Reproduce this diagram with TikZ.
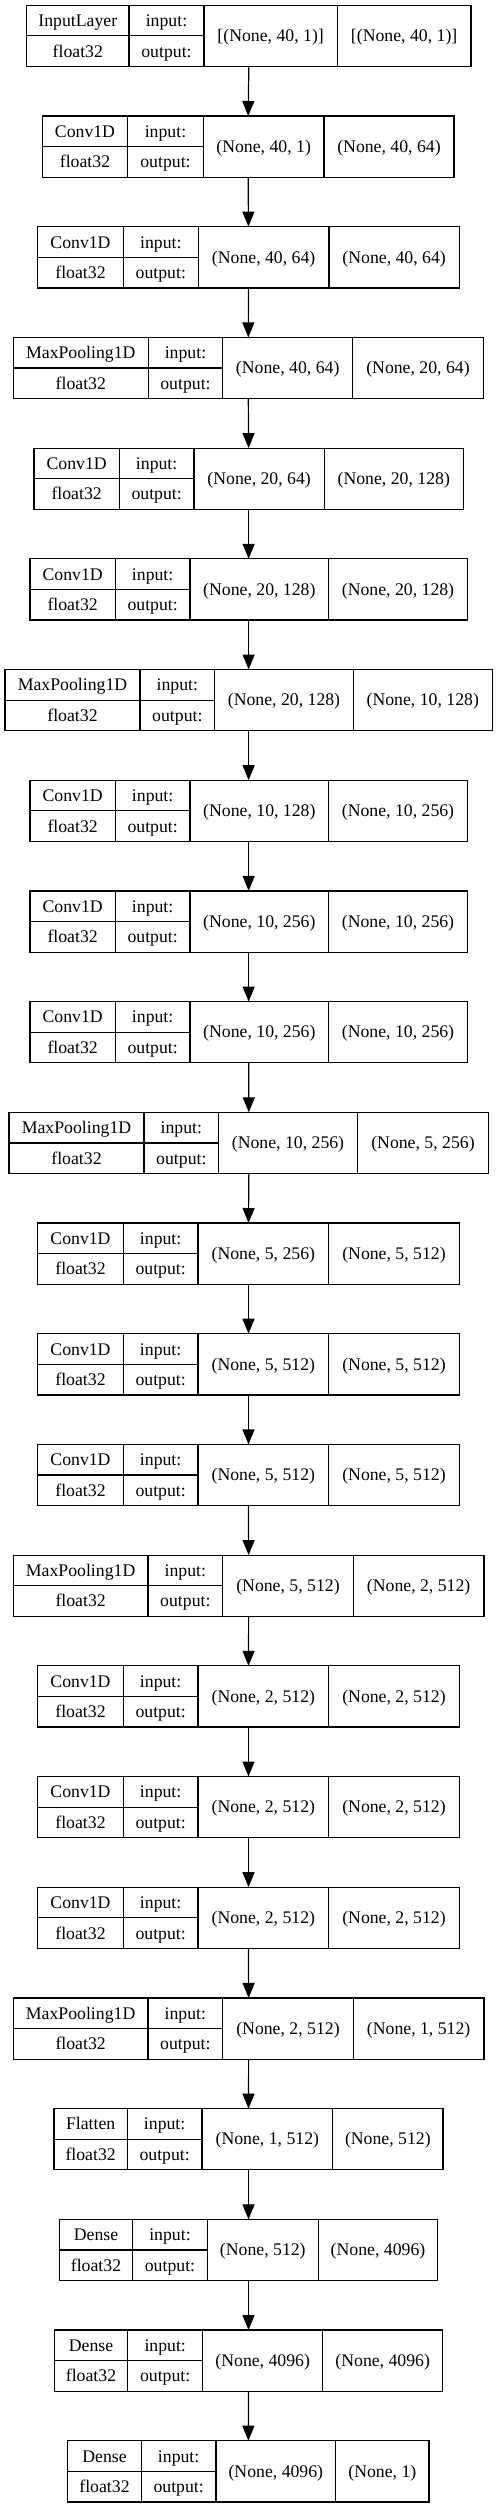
\documentclass[tikz,border=0pt]{standalone}
\usepackage{fontspec}
\setmainfont{Liberation Serif}
\usetikzlibrary{arrows.meta}
\tikzset{
  boxframe/.style={draw=black, line width=0.9pt, rectangle, inner sep=0pt, outer sep=0pt},
  sep/.style={draw=black, line width=0.9pt},
  lbl/.style={anchor=base, inner sep=0pt, font=\fontsize{13.3}{15}\selectfont},
  arr/.style={draw=black, line width=0.9pt, -{Triangle[length=11.25pt, width=9pt]}}
}
\newcommand{\layer}[9]{%
  \pgfmathsetmacro\tp{5.3+110.7*#1}%
  \pgfmathsetmacro\bt{\tp+61.2}%
  \pgfmathsetmacro\md{\tp+30.6}%
  \node[boxframe, minimum width={(#6-#2)*0.75}, minimum height={61.2*0.75}] (b#1) at ({(#2+#6)/2},\md) {};
  \draw[sep] (#3,\tp) -- (#3,\bt);
  \draw[sep] (#4,\tp) -- (#4,\bt);
  \draw[sep] (#5,\tp) -- (#5,\bt);
  \draw[sep] (#2,\md) -- (#4,\md);
  \node[lbl] (n#1) at ({(#2+#3)/2},{\tp+21.3}) {#7};
  \node[lbl] (d#1) at ({(#2+#3)/2},{\tp+51.8}) {float32};
  \node[lbl] (i#1) at ({(#3+#4)/2},{\tp+21.3}) {input:};
  \node[lbl] (o#1) at ({(#3+#4)/2},{\tp+51.8}) {output:};
  \node[lbl] (s#1) at ({(#4+#5)/2},{\tp+36.3}) {#8};
  \node[lbl] (t#1) at ({(#5+#6)/2},{\tp+36.3}) {#9};
}
\begin{document}
\begin{tikzpicture}[x=0.75pt, y=-0.75pt]
\useasboundingbox (0,0) rectangle (497,2508);
\fill[white] (0,0) rectangle (497,2508);
\layer{0}{26.7}{129}{204}{337.3}{471}{InputLayer}{[(None, 40, 1)]}{[(None, 40, 1)]}
\layer{1}{42.3}{127.7}{203.3}{324}{454}{Conv1D}{(None, 40, 1)}{(None, 40, 64)}
\layer{2}{37.7}{123.3}{198.3}{329}{459.3}{Conv1D}{(None, 40, 64)}{(None, 40, 64)}
\layer{3}{13.3}{148.3}{222.7}{352.7}{483.3}{MaxPooling1D}{(None, 40, 64)}{(None, 20, 64)}
\layer{4}{34}{119.3}{194}{324.3}{463.3}{Conv1D}{(None, 20, 64)}{(None, 20, 128)}
\layer{5}{30}{115.3}{190}{328.7}{467.3}{Conv1D}{(None, 20, 128)}{(None, 20, 128)}
\layer{6}{5}{140}{214.7}{353.3}{492.3}{MaxPooling1D}{(None, 20, 128)}{(None, 10, 128)}
\layer{7}{30}{115.3}{190}{328.7}{467.3}{Conv1D}{(None, 10, 128)}{(None, 10, 256)}
\layer{8}{30}{115.3}{190}{328.7}{467.3}{Conv1D}{(None, 10, 256)}{(None, 10, 256)}
\layer{9}{30}{115.3}{190}{328.7}{467.3}{Conv1D}{(None, 10, 256)}{(None, 10, 256)}
\layer{10}{9}{144}{218.7}{357.3}{488.7}{MaxPooling1D}{(None, 10, 256)}{(None, 5, 256)}
\layer{11}{37.7}{123.3}{198}{328.7}{459.3}{Conv1D}{(None, 5, 256)}{(None, 5, 512)}
\layer{12}{37.7}{123.3}{198}{328.7}{459.3}{Conv1D}{(None, 5, 512)}{(None, 5, 512)}
\layer{13}{37.7}{123.3}{198}{328.7}{459.3}{Conv1D}{(None, 5, 512)}{(None, 5, 512)}
\layer{14}{13.3}{148}{222.7}{353.3}{484}{MaxPooling1D}{(None, 5, 512)}{(None, 2, 512)}
\layer{15}{37.7}{123.3}{198}{328.7}{459.3}{Conv1D}{(None, 2, 512)}{(None, 2, 512)}
\layer{16}{37.7}{123.3}{198}{328.7}{459.3}{Conv1D}{(None, 2, 512)}{(None, 2, 512)}
\layer{17}{37.7}{123.3}{198}{328.7}{459.3}{Conv1D}{(None, 2, 512)}{(None, 2, 512)}
\layer{18}{13.3}{148}{222.7}{353.3}{484}{MaxPooling1D}{(None, 2, 512)}{(None, 1, 512)}
\layer{19}{54}{127.3}{202}{332.7}{443}{Flatten}{(None, 1, 512)}{(None, 512)}
\layer{20}{59.3}{132.7}{207.3}{318.3}{437.7}{Dense}{(None, 512)}{(None, 4096)}
\layer{21}{54.3}{127.7}{202.7}{322.7}{442.7}{Dense}{(None, 4096)}{(None, 4096)}
\layer{22}{67.7}{141.3}{216}{335.7}{429}{Dense}{(None, 4096)}{(None, 1)}
\foreach \i [evaluate=\i as \j using int(\i+1)] in {0,...,21}{
  \draw[arr] (b\i.south) -- (b\j.north);
}
\end{tikzpicture}
\end{document}
